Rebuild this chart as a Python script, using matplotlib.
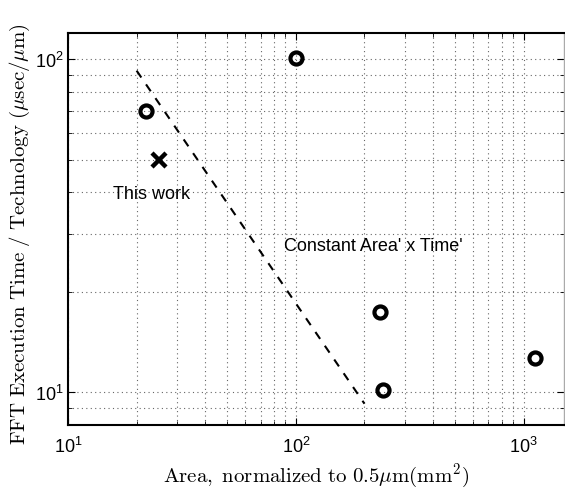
import matplotlib
matplotlib.use("Agg")
import matplotlib.pyplot as plt
from matplotlib.ticker import LogLocator, NullFormatter

plt.rcParams['mathtext.fontset'] = 'cm'
plt.rcParams['font.family'] = ['Liberation Sans', 'DejaVu Sans']

# data
circle_x = [22, 100, 235, 240, 1120]
circle_y = [70, 101, 17.4, 10.2, 12.7]
work_x = [25]
work_y = [50]
line_x = [20, 200]
line_y = [92.5, 9.25]

fig = plt.figure(figsize=(5.65, 4.89), dpi=100)
ax = fig.add_axes([0.1204, 0.1294, 0.8776, 0.8011])

ax.set_xscale('log')
ax.set_yscale('log')
ax.set_xlim(10, 1500)
ax.set_ylim(8, 120)

ax.plot(line_x, line_y, linestyle=(0, (4, 4)), color='black', linewidth=1.5)
ax.plot(circle_x, circle_y, linestyle='none', marker='o', markersize=8.7,
        markerfacecolor='none', markeredgecolor='black', markeredgewidth=3.0)
ax.plot(work_x, work_y, linestyle='none', marker='x', markersize=9.5,
        markeredgecolor='black', markeredgewidth=3.2)

ax.text(23.3, 39.5, 'This work', fontsize=13, ha='center', va='center')
ax.text(219, 27.6, "Constant Area' x Time'", fontsize=13, ha='center', va='center')

ax.xaxis.set_major_locator(LogLocator(base=10, numticks=10))
ax.yaxis.set_major_locator(LogLocator(base=10, numticks=10))
ax.xaxis.set_minor_locator(LogLocator(base=10, subs=range(2, 10), numticks=20))
ax.yaxis.set_minor_locator(LogLocator(base=10, subs=range(2, 10), numticks=20))
ax.xaxis.set_minor_formatter(NullFormatter())
ax.yaxis.set_minor_formatter(NullFormatter())

ax.grid(True, which='both', linestyle=(0, (1, 3)), color='#666666', linewidth=0.8)
ax.tick_params(which='both', direction='in', top=True, right=True, labelsize=13)
ax.tick_params(which='major', length=5)
ax.tick_params(which='minor', length=3)
ax.tick_params(axis='x', pad=8)

for s in ax.spines.values():
    s.set_linewidth(1.5)
ax.spines['right'].set_linewidth(1.0)
ax.spines['right'].set_color('#aaaaaa')

ax.set_xlabel(r'$\mathrm{Area,\ normalized\ to\ 0.5}\mu\mathrm{m(mm^2)}$', fontsize=15, labelpad=3)
ax.set_ylabel(r'$\mathrm{FFT\ Execution\ Time\ /\ Technology\ (}\mu\mathrm{sec/}\mu\mathrm{m)}$',
              fontsize=15, va='center')
ax.yaxis.set_label_coords(-0.0968, 0.49)

fig.savefig('out.png', dpi=100)
